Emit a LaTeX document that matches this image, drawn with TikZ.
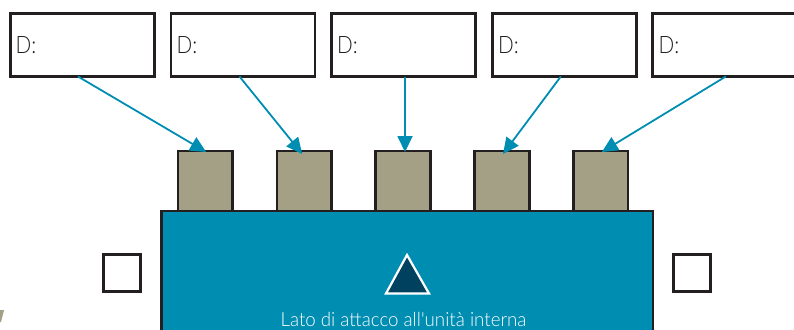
\documentclass[tikz,border=0pt]{standalone}
\usepackage{fontspec}
\usetikzlibrary{arrows.meta}
\setmainfont{Carlito}
\newfontfamily\lightf[FakeStretch=0.86]{Lato Light}
\newfontfamily\capf[FakeStretch=0.96]{Lato Light}
\definecolor{teal}{HTML}{008DB2}
\definecolor{olive}{HTML}{A3A086}
\definecolor{ink}{HTML}{231F20}
\definecolor{navy}{HTML}{00415F}
\tikzset{
  x=1pt,y=-1pt,
  dbox/.style={draw=ink,line width=2.7pt,fill=white,minimum width=144pt,minimum height=63pt,inner sep=0pt,outer sep=0pt},
  port/.style={draw=ink,line width=2.7pt,fill=olive,minimum width=54.5pt,minimum height=60pt,inner sep=0pt,outer sep=0pt},
  mark box/.style={draw=ink,line width=2.7pt,fill=white,minimum width=37pt,minimum height=37pt,inner sep=0pt,outer sep=0pt},
  dlabel/.style={inner sep=0pt,anchor=base west,text=ink,font=\lightf\fontsize{24}{24}\selectfont},
  link/.style={draw=teal,line width=1.8pt,-{Triangle[length=16pt,width=15pt]},shorten >=0pt}
}
\begin{document}
\begin{tikzpicture}
\useasboundingbox (0,0) rectangle (794,329);
\begin{scope}
\clip (0,0) rectangle (794,329);
\fill[olive] (0,310) -- (4,310) -- (1,322) -- (0,322) -- cycle;
\node[draw=ink,line width=2.7pt,fill=teal,minimum width=491.5pt,minimum height=140pt,inner sep=0pt,outer sep=0pt] (unit) at (407.2,281) {};
\node[dbox] (b1) at (82.5,45) {};
\node[dbox] (b2) at (243,45) {};
\node[dbox] (b3) at (403.5,45) {};
\node[dbox] (b4) at (564.3,45) {};
\node[dbox] (b5) at (724.8,45) {};
\foreach \i/\x in {1/15.5,2/176.5,3/337,4/498,5/658.5}{
  \node[dlabel] (d\i) at (\x,53) {D:};
}
\node[port] (p1) at (205.2,181) {};
\node[port] (p2) at (304.2,181) {};
\node[port] (p3) at (403,181) {};
\node[port] (p4) at (502,181) {};
\node[port] (p5) at (600.8,181) {};
\node[mark box] (m1) at (122,273) {};
\node[mark box] (m2) at (692,273) {};
\draw[draw=white,fill=navy,line width=2.2pt] (407,255) -- (429,293.5) -- (386,293.5) -- cycle;
\node[inner sep=0pt,anchor=base,text=white,font=\capf\fontsize{19.5}{19.5}\selectfont] (cap) at (403.5,326.5) {Lato di attacco all'unità interna};
\end{scope}
\draw[link] ([xshift=-4.5pt]b1.south) -- ([xshift=1pt,yshift=-1pt]p1.north);
\draw[link] ([xshift=-3.5pt]b2.south) -- ([xshift=-2pt,yshift=-3pt]p2.north);
\draw[link] ([xshift=1.5pt]b3.south) -- ([xshift=2pt,yshift=-1pt]p3.north);
\draw[link] ([xshift=-3.5pt]b4.south) -- ([xshift=1pt,yshift=-3pt]p4.north);
\draw[link] ([xshift=1pt]b5.south) -- ([xshift=1pt,yshift=-1pt]p5.north);
\end{tikzpicture}
\end{document}
